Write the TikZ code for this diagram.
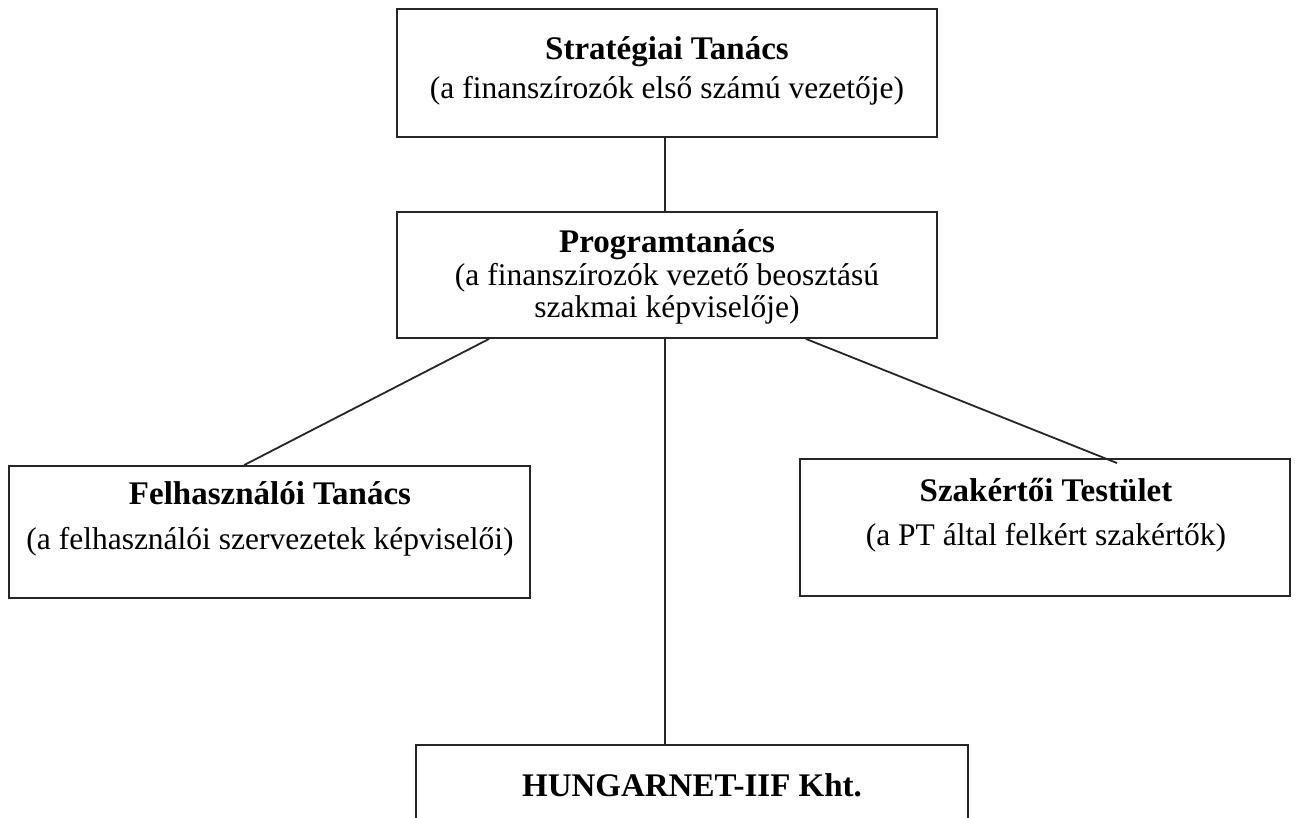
\documentclass[tikz,border=0pt]{standalone}
\usepackage{fontspec}
\setmainfont{Liberation Serif}
\begin{document}
\begin{tikzpicture}[x=1pt,y=-1pt,
  box/.style={draw=black!85, line width=1.8pt, rectangle, inner sep=0pt},
  conn/.style={draw=black!85, line width=1.8pt},
  ttl/.style={anchor=base, font=\fontsize{33}{38}\selectfont\bfseries, inner sep=0pt},
  sub/.style={anchor=base, font=\fontsize{31.5}{36}\selectfont, inner sep=0pt}]
\clip (0,0) rectangle (1296,817);
\fill[white] (0,0) rectangle (1296,817);
% boxes
\node[box, minimum width=540pt, minimum height=128pt] (strat) at (667,73) {};
\node[box, minimum width=540pt, minimum height=126pt] (prog) at (667,275) {};
\node[box, minimum width=521pt, minimum height=132pt] (felh) at (269.5,532) {};
\node[box, minimum width=490pt, minimum height=137pt] (szak) at (1045,527.5) {};
\node[box, minimum width=552pt, minimum height=140pt] (hun) at (692,815) {};
% texts
\node[ttl] (t1) at (667,59) {Stratégiai Tanács};
\node[sub] (s1) at (667,98) {(a finanszírozók első számú vezetője)};
\node[ttl] (t2) at (667,252) {Programtanács};
\node[sub] (s2a) at (667,285) {(a finanszírozók vezető beosztású};
\node[sub] (s2b) at (667,317) {szakmai képviselője)};
\node[ttl] (t3) at (270,504) {Felhasználói Tanács};
\node[sub] (s3) at (270,549) {(a felhasználói szervezetek képviselői)};
\node[ttl] (t4) at (1046,501) {Szakértői Testület};
\node[sub] (s4) at (1046,545) {(a PT által felkért szakértők)};
\node[ttl] (t5) at (692,796) {HUNGARNET-IIF Kht.};
% connectors
\draw[conn] ([xshift=-2pt]strat.south) -- ([xshift=-2pt]prog.north);
\draw[conn] ([xshift=93pt]prog.south west) -- ([xshift=236pt]felh.north west);
\draw[conn] ([xshift=-2pt]prog.south) -- ([xshift=-2pt]prog.south |- hun.north);
\coordinate (szend) at ([xshift=318pt,yshift=-5pt]szak.north west);
\draw[conn] ([xshift=-132pt]prog.south east) -- (szend);
\end{tikzpicture}
\end{document}
